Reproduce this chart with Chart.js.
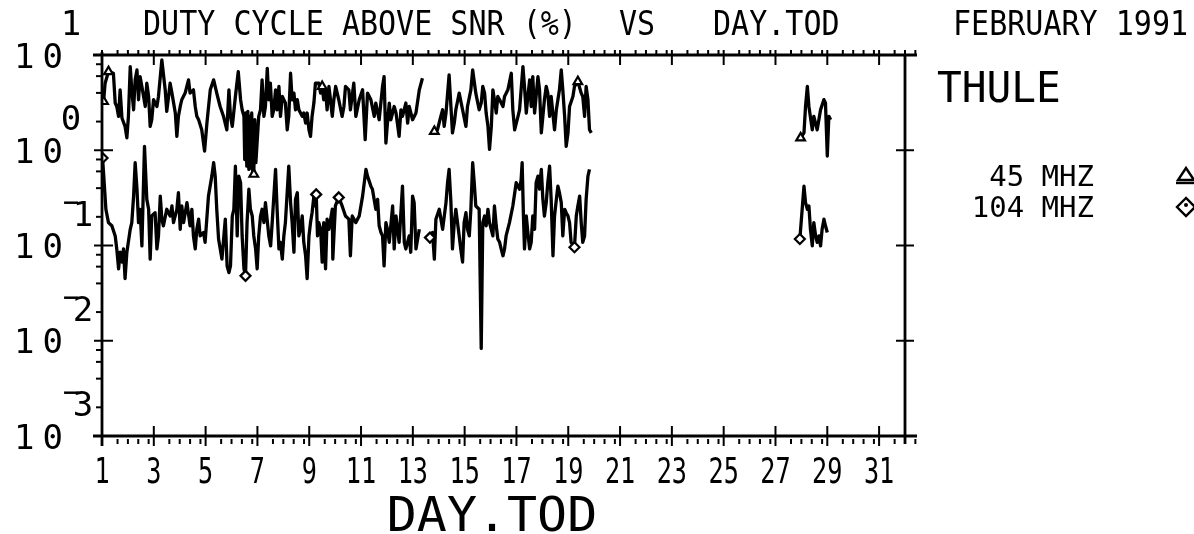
<!DOCTYPE html>
<html><head><meta charset="utf-8">
<script src="https://cdn.jsdelivr.net/npm/chart.js@4/dist/chart.umd.min.js"></script>
<style>html,body{margin:0;padding:0;background:#fff;}canvas{display:block;}</style>
</head><body>
<canvas id="c" width="1194" height="534"></canvas>
<script>
// ---- data (day of month, duty cycle %) ----
const days45 = [1.06,1.12,1.25,1.44,1.51,1.57,1.64,1.70,1.77,1.89,1.96,2.02,2.09,2.15,2.22,2.28,2.35,2.41,2.47,2.54,2.67,2.73,2.80,2.86,2.92,2.99,3.12,3.18,3.31,3.44,3.50,3.57,3.63,3.70,3.83,3.89,3.95,4.02,4.08,4.21,4.34,4.40,4.53,4.60,4.66,4.73,4.85,4.96,5.05,5.18,5.31,5.43,5.56,5.69,5.82,
5.90,5.96,6.03,6.15,6.26,6.35,6.41,6.48,6.51,6.55,6.59,6.63,6.67,6.71,6.75,6.78,6.82,6.86,6.90,6.94,7.05,7.12,7.18,7.25,7.31,7.38,7.44,7.50,7.57,7.63,7.70,7.76,7.83,7.89,7.96,8.08,8.15,8.21,8.28,8.34,8.41,8.47,8.54,8.60,8.73,8.79,8.86,8.92,8.99,9.05,9.11,9.18,9.24,9.37,9.44,9.50,9.56,9.63,9.69,9.76,9.82,9.89,9.95,10.02,10.14,10.27,10.34,10.40,10.53,10.59,10.72,
10.80,10.93,11.06,11.16,11.25,11.38,11.51,11.57,11.70,11.83,11.89,11.96,12.02,12.09,12.15,12.28,12.35,12.47,12.54,12.60,12.73,12.80,12.86,12.99,13.12,13.25,13.37,13.60,
13.83,13.95,14.08,14.15,14.21,14.28,14.40,14.47,14.53,14.60,14.66,14.79,14.92,15.05,15.11,15.24,15.31,15.43,15.56,15.64,15.70,15.77,15.83,15.90,15.96,16.03,16.09,16.15,16.22,16.28,16.35,16.48,16.54,16.67,16.80,16.86,16.93,17.06,17.12,17.25,17.31,17.38,17.44,17.51,17.57,17.63,17.70,17.83,17.89,17.96,18.02,18.08,18.15,18.21,18.28,18.34,18.47,18.54,18.66,18.73,18.79,18.86,18.92,18.99,19.05,19.18,19.24,19.37,19.50,19.56,19.63,19.69,19.76,19.82,19.89,23.00,
27.97,28.10,28.16,28.23,28.29,28.42,28.48,28.61,28.74,28.87,28.93,29.00,29.06,29.13];
const duty45 = [3.25,5.06,6.69,6.43,3.13,2.88,2.27,4.31,2.18,1.78,1.35,2.27,7.55,4.31,2.66,5.48,6.96,3.39,5.93,4.67,2.88,5.06,3.67,1.78,2.09,3.39,2.88,3.67,8.87,4.31,2.56,3.67,5.06,3.98,2.46,1.40,2.27,2.88,3.39,3.98,5.48,3.98,4.31,2.88,2.27,2.09,1.64,0.98,1.93,4.31,5.48,3.98,2.88,2.27,1.64,
4.31,2.27,1.78,3.67,6.69,3.39,2.66,2.27,0.80,2.46,0.68,2.56,0.63,2.27,0.65,2.46,0.60,0.56,2.09,0.74,2.27,2.66,5.48,2.27,2.88,7.24,3.39,5.06,2.27,2.66,4.31,2.66,4.67,2.27,3.67,3.13,1.64,2.27,6.43,3.39,3.98,2.66,3.39,2.66,2.27,2.46,1.93,2.46,1.64,1.40,2.27,3.13,5.06,5.06,3.98,4.67,3.39,4.31,2.66,4.67,3.39,2.27,3.39,4.67,3.39,2.27,2.88,4.67,4.31,2.66,5.06,
2.27,3.39,4.31,1.29,3.98,3.39,2.27,3.13,2.09,4.67,5.93,1.19,1.93,3.13,2.09,2.88,2.46,1.40,2.66,2.27,3.13,1.93,2.88,2.09,2.46,4.31,5.70,null,
1.58,1.64,2.27,2.66,1.78,2.46,6.18,2.88,1.52,1.93,2.66,3.98,2.66,1.78,2.88,4.31,6.96,3.98,2.66,3.13,4.67,3.98,2.46,1.78,1.02,1.78,4.31,3.39,2.46,3.67,3.39,2.88,3.67,4.31,6.43,2.66,1.64,2.27,2.66,7.55,4.67,2.46,3.67,5.48,2.88,5.93,2.46,5.93,4.31,1.52,2.27,3.39,4.67,3.98,2.27,3.67,1.64,2.66,4.31,6.96,4.31,2.27,1.10,1.52,2.88,3.67,4.67,5.26,3.98,3.67,2.27,4.67,3.39,1.64,1.52,null,
1.35,1.52,2.88,4.67,2.88,1.64,2.27,1.64,2.66,3.40,3.13,0.87,2.27,2.09];

const days104 = [1.02,1.06,1.10,1.15,1.25,1.38,1.51,1.57,1.64,1.70,1.77,1.83,1.89,1.96,2.09,2.15,2.22,2.28,2.35,2.41,2.47,2.54,2.64,2.73,2.80,2.86,2.92,3.05,3.12,3.18,3.25,3.31,3.37,3.50,3.63,3.70,3.76,3.89,3.95,4.02,4.08,4.15,4.28,4.40,4.47,4.53,4.60,4.66,4.73,4.79,4.92,4.98,5.11,5.24,5.31,5.37,5.43,5.50,5.63,5.76,
5.83,5.90,5.96,6.03,6.09,6.15,6.22,6.28,6.35,6.41,6.48,6.54,6.60,6.67,6.73,6.80,6.86,6.93,6.99,7.05,7.12,7.18,7.25,7.31,7.44,7.51,7.57,7.70,7.76,7.83,7.89,7.96,8.02,8.08,8.21,8.28,8.34,8.41,8.47,8.54,8.60,8.66,8.73,8.79,8.86,8.92,8.99,9.05,9.11,9.18,9.24,9.27,9.32,9.37,9.44,9.50,9.56,9.63,9.69,9.76,9.89,9.91,10.01,10.14,10.27,10.40,10.53,10.59,10.66,
10.80,10.93,11.06,11.19,11.25,11.38,11.44,11.57,11.64,11.70,11.77,11.83,11.89,11.96,12.02,12.09,12.22,12.28,12.35,12.47,12.60,12.67,12.73,12.86,12.92,12.99,13.05,13.12,13.25,13.45,
13.66,13.76,13.83,13.89,14.02,14.15,14.28,14.34,14.40,14.47,14.53,14.60,14.66,14.79,14.85,14.92,14.98,15.05,15.11,15.18,15.24,15.31,15.37,15.43,15.56,15.64,15.70,15.77,15.83,15.90,15.96,16.09,16.15,16.22,16.28,16.35,16.41,16.48,16.54,16.60,16.73,16.86,16.99,17.06,17.12,17.18,17.22,17.27,17.31,17.38,17.44,17.51,17.57,17.63,17.70,17.76,17.83,17.89,17.96,18.02,18.08,18.15,18.21,18.28,18.34,18.41,18.47,18.54,18.60,18.66,18.73,18.79,18.86,18.92,18.99,19.05,19.11,19.24,19.31,19.37,19.44,19.50,19.56,19.63,19.69,19.76,19.82,23.00,
27.94,28.03,28.10,28.16,28.23,28.29,28.35,28.42,28.48,28.55,28.61,28.68,28.74,28.80,28.87,28.93,29.00];
const duty104 = [0.83,0.58,0.39,0.24,0.174,0.161,0.126,0.092,0.057,0.085,0.067,0.092,0.045,0.085,0.148,0.174,0.33,0.74,0.39,0.174,0.24,0.099,1.10,0.305,0.24,0.072,0.204,0.221,0.092,0.126,0.33,0.189,0.161,0.24,0.204,0.26,0.174,0.24,0.358,0.148,0.26,0.174,0.282,0.161,0.24,0.126,0.092,0.148,0.189,0.126,0.137,0.108,0.33,0.535,0.74,0.535,0.24,0.117,0.072,0.189,
0.061,0.052,0.061,0.204,0.24,0.68,0.126,0.535,0.456,0.126,0.057,0.048,0.174,0.39,0.24,0.204,0.126,0.092,0.057,0.126,0.204,0.24,0.174,0.282,0.126,0.099,0.174,0.63,0.24,0.092,0.108,0.072,0.126,0.174,0.68,0.282,0.174,0.085,0.305,0.358,0.126,0.148,0.204,0.108,0.078,0.045,0.126,0.174,0.221,0.33,0.26,0.344,0.126,0.174,0.148,0.067,0.174,0.057,0.189,0.148,0.24,0.072,0.26,0.32,0.26,0.204,0.189,0.078,0.204,
0.174,0.204,0.33,0.63,0.535,0.42,0.39,0.24,0.305,0.161,0.137,0.126,0.061,0.174,0.148,0.108,0.26,0.092,0.204,0.108,0.42,0.108,0.092,0.126,0.085,0.33,0.282,0.092,0.148,null,
0.121,0.137,0.072,0.189,0.24,0.148,0.282,0.456,0.63,0.282,0.092,0.174,0.24,0.126,0.092,0.067,0.174,0.221,0.148,0.126,0.24,0.74,0.456,0.26,0.24,0.0083,0.174,0.204,0.161,0.24,0.174,0.126,0.26,0.161,0.117,0.108,0.092,0.078,0.092,0.126,0.174,0.26,0.456,0.42,0.39,0.49,0.74,0.204,0.092,0.204,0.137,0.092,0.108,0.204,0.148,0.456,0.535,0.39,0.63,0.305,0.204,0.282,0.456,0.68,0.305,0.078,0.204,0.305,0.42,0.358,0.282,0.126,0.24,0.221,0.204,0.174,0.108,0.096,0.204,0.26,0.33,0.174,0.108,0.126,0.305,0.535,0.63,null,
0.117,0.24,0.42,0.282,0.24,0.26,0.148,0.099,0.174,0.126,0.108,0.126,0.099,0.148,0.189,0.161,0.137];

const marks45 = [1.06,1.25,6.86,9.50,13.83,19.37,27.97];
const marks104 = [1.02,6.54,9.27,10.14,13.66,19.24,27.94];

const xTickLabels = [1,3,5,7,9,11,13,15,17,19,21,23,25,27,29,31];
const xMinorOffsets = [0.6,1.0,1.4,1.8];
const yDecades = [10,1,0.1,0.01,0.001];
const yExponents = ['1','0','−1','−2','−3'];
const yMinorMult = [2,4,6,8];
const titleParts = [['DUTY CYCLE ABOVE SNR (%)',143],['VS',619],['DAY.TOD',713],['FEBRUARY 1991',953]];
const stationName = 'THULE';
const seriesNames = ['45 MHZ','104 MHZ'];
const xAxisTitle = 'DAY.TOD';

const FONT = '"DejaVu Sans Mono", monospace';
function txt(ctx, s, x, y, size, sx, align, spacing) {
  ctx.save();
  ctx.font = size + 'px ' + FONT;
  ctx.textAlign = align || 'left';
  ctx.textBaseline = 'alphabetic';
  if (spacing) { try { ctx.letterSpacing = spacing; } catch (e) {} }
  ctx.translate(x, y);
  ctx.scale(sx || 1, 1);
  ctx.fillText(s, 0, 0);
  ctx.restore();
}
function seg(ctx, x1, y1, x2, y2) { ctx.beginPath(); ctx.moveTo(x1, y1); ctx.lineTo(x2, y2); ctx.stroke(); }

const framePlugin = {
  id: 'frame',
  beforeDraw(chart) {
    const ctx = chart.ctx;
    ctx.save(); ctx.fillStyle = '#fff'; ctx.fillRect(0, 0, chart.width, chart.height); ctx.restore();
  },
  afterDraw(chart) {
    const { ctx, chartArea: a, scales } = chart;
    const xs = scales.x, ys = scales.y;
    const L = a.left, R = a.right, T = a.top, B = a.bottom;
    ctx.save();
    ctx.strokeStyle = '#000'; ctx.fillStyle = '#000';
    ctx.lineWidth = 2.8;
    seg(ctx, L - 9, T, R + 12, T);
    seg(ctx, L - 9, B, R + 12, B);
    seg(ctx, L, T - 3, L, B + 10);
    seg(ctx, R, T, R, B + 8);
    ctx.lineWidth = 2;
    // x ticks
    xTickLabels.forEach(t => {
      const px = xs.getPixelForValue(t);
      seg(ctx, px, T - 5, px, T + 10);
      seg(ctx, px, B - 10, px, B + 10);
      xMinorOffsets.forEach(o => {
        const v = t + o;
        if (v <= 32.4) {
          const q = xs.getPixelForValue(v);
          seg(ctx, q, T - 5, q, T - 1);
          seg(ctx, q, B + 3, q, B + 8);
        }
      });
    });
    // y ticks
    yDecades.forEach(d => {
      const py = ys.getPixelForValue(d);
      seg(ctx, L - 8, py, L + 11, py);
      seg(ctx, R - 9, py, R + 9, py);
      if (d < 10) {
        yMinorMult.forEach(m => {
          const q = ys.getPixelForValue(d * m);
          seg(ctx, L - 6, q, L, q);
        });
      }
    });
    // y labels
    yDecades.forEach((d, i) => {
      const py = ys.getPixelForValue(d);
      txt(ctx, '10', 14, py + 12.5, 34, 1, 'left', '8px');
      const e = yExponents[i];
      const eb = py - 20;
      if (e.length === 1) {
        txt(ctx, e, 71, eb, 34, 1, 'center');
      } else {
        txt(ctx, e[0], 71, eb - 14, 30, 0.9, 'center');
        txt(ctx, e[1], 83, eb, 34, 1, 'center');
      }
    });
    // x labels
    xTickLabels.forEach(t => {
      txt(ctx, String(t), xs.getPixelForValue(t), 483, 36, 0.7, 'center');
    });
    txt(ctx, xAxisTitle, 492, 531, 48, 1.04, 'center');
    // title
    titleParts.forEach(p => txt(ctx, p[0], p[1], 35, 33, 0.91, 'left'));
    // station and legend
    txt(ctx, stationName, 937, 102, 42, 0.98, 'left');
    txt(ctx, seriesNames[0], 1094, 186, 29, 1, 'right');
    txt(ctx, seriesNames[1], 1094, 217, 29, 1, 'right');
    // legend symbols
    ctx.lineWidth = 2.4;
    ctx.beginPath(); ctx.moveTo(1186, 168); ctx.lineTo(1178, 180); ctx.lineTo(1194, 180); ctx.closePath(); ctx.stroke();
    seg(ctx, 1176, 183, 1196, 183);
    ctx.beginPath(); ctx.moveTo(1186, 198); ctx.lineTo(1177, 207); ctx.lineTo(1186, 216); ctx.lineTo(1195, 207); ctx.closePath(); ctx.stroke();
    ctx.beginPath(); ctx.arc(1186, 205, 2, 0, Math.PI * 2); ctx.fill();
    ctx.restore();
  }
};

const pts = (ds, vs) => ds.map((d, i) => ({ x: d, y: vs[i] }));
const common = {
  borderColor: '#000', borderWidth: 3.3, tension: 0, spanGaps: false,
  borderJoinStyle: 'round', pointBackgroundColor: '#fff', pointBorderColor: '#000', pointBorderWidth: 2.2,
  pointHoverRadius: 0, fill: false
};

new Chart(document.getElementById('c'), {
  type: 'line',
  data: {
    datasets: [
      Object.assign({ label: seriesNames[0], data: pts(days45, duty45), pointStyle: 'triangle',
        pointRadius: c => (c.raw && marks45.includes(c.raw.x)) ? 5 : 0 }, common),
      Object.assign({ label: seriesNames[1], data: pts(days104, duty104), pointStyle: 'rectRot',
        pointRadius: c => (c.raw && marks104.includes(c.raw.x)) ? 5 : 0 }, common)
    ]
  },
  options: {
    responsive: false, animation: false, devicePixelRatio: 1, events: [],
    layout: { padding: { left: 102, right: 289, top: 55, bottom: 98 } },
    plugins: { legend: { display: false }, title: { display: false }, tooltip: { enabled: false } },
    scales: {
      x: { type: 'linear', min: 1, max: 32, display: false },
      y: { type: 'logarithmic', min: 0.001, max: 10, display: false }
    }
  },
  plugins: [framePlugin]
});
</script>
</body></html>
